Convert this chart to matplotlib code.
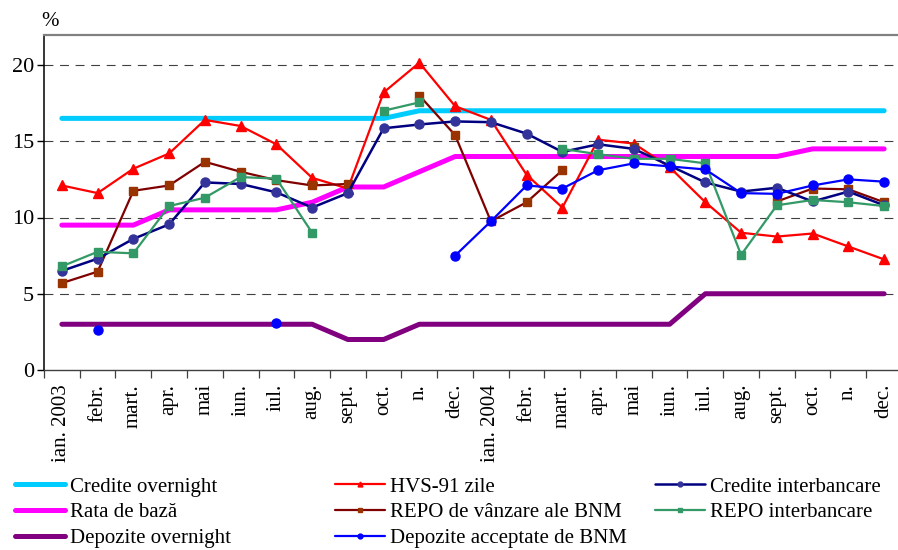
import numpy as np
import matplotlib
matplotlib.use("Agg")
import matplotlib.pyplot as plt
from matplotlib.lines import Line2D

nan = np.nan
months = ["ian. 2003", "febr.", "mart.", "apr.", "mai", "iun.", "iul.", "aug.",
          "sept.", "oct.", "n.", "dec.", "ian. 2004", "febr.", "mart.", "apr.",
          "mai", "iun.", "iul.", "aug.", "sept.", "oct.", "n.", "dec."]

credite_overnight = [16.5] * 10 + [17.0] * 14
rata_baza = [9.5, 9.5, 9.5, 10.5, 10.5, 10.5, 10.5, 11.0, 12.0, 12.0, 13.0, 14.0,
             14.0, 14.0, 14.0, 14.0, 14.0, 14.0, 14.0, 14.0, 14.0, 14.5, 14.5, 14.5]
depozite_overnight = [3, 3, 3, 3, 3, 3, 3, 3, 2, 2, 3, 3,
                      3, 3, 3, 3, 3, 3, 5, 5, 5, 5, 5, 5]
hvs91 = [12.1, 11.6, 13.2, 14.2, 16.4, 16.0, 14.8, 12.6, 11.9, 18.2, 20.15, 17.3,
         16.4, 12.8, 10.65, 15.1, 14.85, 13.3, 11.0, 9.0, 8.75, 8.95, 8.1, 7.25]
credite_interbancare = [6.5, 7.3, 8.6, 9.55, 12.3, 12.2, 11.65, 10.65, 11.6, 15.85, 16.1, 16.3,
                        16.25, 15.5, 14.3, 14.8, 14.5, 13.4, 12.3, 11.7, 11.95, 11.05, 11.7, 10.8]
repo_vanzare = [5.7, 6.45, 11.75, 12.1, 13.65, 13.0, 12.45, 12.1, 12.2, nan, 18.0, 15.4,
                9.75, 11.0, 13.1, nan, 14.65, nan, nan, nan, 11.05, 11.9, 11.85, 11.0]
repo_interbancare = [6.8, 7.75, 7.65, 10.75, 11.3, 12.65, 12.55, 9.0, nan, 17.0, 17.55, nan,
                     nan, nan, 14.5, 14.15, 13.85, 13.85, 13.55, 7.55, 10.8, 11.15, 11.0, 10.75]
depozite_acceptate = [nan, 2.6, nan, nan, nan, nan, 3.05, nan, nan, nan, nan, 7.5,
                      9.75, 12.1, 11.9, 13.1, 13.55, 13.35, 13.15, 11.6, 11.55, 12.1, 12.5, 12.35]
y_ticks = [0, 5, 10, 15, 20]

plt.rcParams["font.family"] = ["Liberation Serif", "DejaVu Serif"]

fig = plt.figure(figsize=(8.98, 5.5), dpi=100)
W, H = 898, 550
ax = fig.add_axes([44 / W, (550 - 370) / H, 858 / W, (370 - 34.5) / H])

x = np.arange(len(months))

thick = 3.6
ax.plot(x, credite_overnight, color="#00CCFF", lw=thick, solid_capstyle="round", zorder=2)
ax.plot(x, rata_baza, color="#FF00FF", lw=thick, solid_capstyle="round", zorder=2)
ax.plot(x, depozite_overnight, color="#800080", lw=thick, solid_capstyle="round", zorder=2)
ax.plot(x, hvs91, color="#FF0000", lw=1.6, marker="^", ms=6.5, mfc="#FF0000", mec="#FF0000", zorder=3)
ax.plot(x, repo_vanzare, color="#800000", lw=1.6, marker="s", ms=6, mfc="#993300", mec="#993300", zorder=3)
ax.plot(x, credite_interbancare, color="#000080", lw=1.8, marker="o", ms=6.5, mfc="#333399", mec="#333399", zorder=3)
ax.plot(x, repo_interbancare, color="#339966", lw=1.6, marker="s", ms=6, mfc="#339966", mec="#339966", zorder=3)
ax.plot(x, depozite_acceptate, color="#0000FF", lw=1.6, marker="o", ms=6.5, mfc="#0000FF", mec="#0000FF", zorder=3)

ax.set_xlim(-0.5, len(months) - 0.5)
ax.set_ylim(0, 22)
ax.set_yticks(y_ticks)
ax.set_yticklabels([str(v) for v in y_ticks], fontsize=16)
for v in y_ticks[1:]:
    ax.axhline(v, color="#404040", lw=0.8, ls=(0, (8, 6)), zorder=1)

ax.set_xticks(np.arange(len(months) + 1) - 0.5)
ax.set_xticklabels([])
ax.set_xticks(x, minor=True)
ax.set_xticklabels(months, minor=True, rotation=90, fontsize=15, va="top", ha="center")
ax.tick_params(axis="x", which="major", direction="out", length=6, width=0.9, color="#404040")
ax.tick_params(axis="x", which="minor", length=0, pad=10)
ax.tick_params(axis="y", direction="out", length=5, width=1, pad=2)

ax.spines["right"].set_visible(False)
ax.spines["top"].set_color("#808080")
ax.spines["top"].set_linewidth(1.6)
ax.spines["left"].set_color("black")
ax.spines["left"].set_linewidth(1.1)
ax.spines["bottom"].set_color("#404040")
ax.spines["bottom"].set_linewidth(1.0)

fig.text(50 / W, 1 - 21 / H, "%", fontsize=15, ha="center", va="center")

def h(color, lw, marker=None, mfc=None):
    return Line2D([], [], color=color, lw=lw, marker=marker, ms=3.5,
                  mfc=mfc or color, mec=mfc or color, solid_capstyle="round")

columns = [
    ([h("#00CCFF", thick), h("#FF00FF", thick), h("#800080", thick)],
     ["Credite overnight", "Rata de bază", "Depozite overnight"], 15),
    ([h("#FF0000", 1.6, "^"), h("#800000", 1.6, "s", "#993300"), h("#0000FF", 1.6, "o")],
     ["HVS-91 zile", "REPO de vânzare ale BNM", "Depozite acceptate de BNM"], 335),
    ([h("#000080", 1.8, "o", "#333399"), h("#339966", 1.6, "s")],
     ["Credite interbancare", "REPO interbancare"], 655),
]
for handles, labels, xpx in columns:
    leg = fig.legend(handles, labels, loc="upper left",
                     bbox_to_anchor=(xpx / W, 1 - 477 / H), frameon=False,
                     fontsize=15, handlelength=2.4, handletextpad=0.25,
                     labelspacing=0.29, borderpad=0, borderaxespad=0)

fig.savefig("out.png", dpi=100)
